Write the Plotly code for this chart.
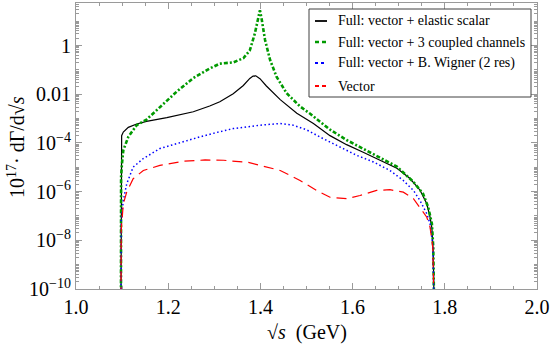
import plotly.graph_objects as go

# ---- data (sqrt(s) in GeV, 10^17 dGamma/dsqrt(s)) ----
x_elastic = [1.0975, 1.0978, 1.0990, 1.1026, 1.1135, 1.1316, 1.153, 1.197, 1.2545, 1.290,
             1.312, 1.341, 1.363, 1.377, 1.384, 1.390, 1.399, 1.413, 1.443, 1.479,
             1.515, 1.551, 1.587, 1.623, 1.659, 1.696, 1.724, 1.746, 1.761, 1.768,
             1.772, 1.775, 1.777]
y_elastic = [1e-11, 1.41e-4, 2.00e-4, 2.82e-4, 4.37e-4, 6.03e-4, 7.76e-4, 1.10e-3, 1.91e-3, 3.31e-3,
             4.90e-3, 1.05e-2, 2.29e-2, 4.47e-2, 5.62e-2, 5.75e-2, 4.37e-2, 2.19e-2, 6.03e-3, 1.66e-3,
             6.31e-4, 2.00e-4, 8.51e-5, 4.17e-5, 2.00e-5, 9.12e-6, 3.55e-6, 1.17e-6, 3.16e-7, 8.91e-8,
             3.16e-8, 3.16e-9, 1e-11]

x_coupled = [1.0975, 1.0978, 1.0995, 1.1026, 1.1135, 1.1316, 1.153, 1.182, 1.218, 1.254,
             1.291, 1.312, 1.341, 1.363, 1.377, 1.388, 1.395, 1.399, 1.403, 1.410,
             1.421, 1.435, 1.457, 1.486, 1.508, 1.551, 1.587, 1.623, 1.659, 1.696,
             1.732, 1.753, 1.764, 1.772, 1.775, 1.777]
y_coupled = [1e-11, 3.98e-6, 1.26e-5, 5.01e-5, 1.78e-4, 5.37e-4, 9.12e-4, 3.02e-3, 1.26e-2, 4.57e-2,
             0.117, 0.182, 0.204, 0.302, 0.631, 3.16, 15.8, 28.2, 11.5, 1.74,
             0.257, 5.25e-2, 1.10e-2, 3.16e-3, 1.58e-3, 3.55e-4, 1.32e-4, 5.62e-5, 2.40e-5, 1.07e-5,
             2.51e-6, 8.13e-7, 2.29e-7, 4.79e-8, 5.01e-9, 1e-11]

x_bw = [1.0975, 1.098, 1.1026, 1.110, 1.124, 1.146, 1.182, 1.233, 1.269, 1.305,
        1.341, 1.399, 1.443, 1.471, 1.500, 1.536, 1.573, 1.609, 1.645, 1.681,
        1.710, 1.732, 1.746, 1.761, 1.768, 1.774, 1.777]
y_bw = [1e-11, 6.31e-8, 4.37e-7, 2.09e-6, 1.02e-5, 2.29e-5, 5.89e-5, 1.17e-4, 1.78e-4, 2.69e-4,
        3.89e-4, 5.37e-4, 6.31e-4, 5.37e-4, 3.47e-4, 1.51e-4, 6.92e-5, 3.09e-5, 1.66e-5, 7.41e-6,
        2.88e-6, 1.12e-6, 4.37e-7, 1.23e-7, 4.79e-8, 6.31e-9, 1e-11]

x_vector = [1.0975, 1.098, 1.1026, 1.110, 1.124, 1.146, 1.182, 1.233, 1.280, 1.320,
            1.374, 1.410, 1.443, 1.486, 1.522, 1.551, 1.587, 1.616, 1.652, 1.681,
            1.710, 1.732, 1.746, 1.761, 1.768, 1.774, 1.777]
y_vector = [1e-11, 2.51e-8, 3.16e-7, 9.55e-7, 3.39e-6, 7.41e-6, 1.20e-5, 1.78e-5, 2.00e-5, 1.95e-5,
            1.58e-5, 1.07e-5, 7.41e-6, 2.88e-6, 1.12e-6, 5.89e-7, 5.13e-7, 6.92e-7, 1.12e-6, 1.20e-6,
            9.55e-7, 5.13e-7, 2.29e-7, 8.91e-8, 3.47e-8, 5.01e-9, 1e-11]

series_names = ["Full: vector + elastic scalar",
                "Full: vector + 3 coupled channels",
                "Full: vector + B. Wigner (2 res)",
                "Vector"]

x_tickvals = [1.0, 1.2, 1.4, 1.6, 1.8, 2.0]
x_ticktext = ["1.0", "1.2", "1.4", "1.6", "1.8", "2.0"]
y_tickvals = [1e-10, 1e-8, 1e-6, 1e-4, 1e-2, 1]
y_ticktext = ["10<sup>−10</sup>", "10<sup>−8</sup>", "10<sup>−6</sup>", "10<sup>−4</sup>", "0.01", "1"]

FONT = "Liberation Serif, Times New Roman, serif"
FRAME = "#9a9a9a"

# figure geometry (pixels)
W, H = 554, 344
ML, MR, MT, MB = 76, 17, 3, 55
PW, PH = W - ML - MR, H - MT - MB

def px_x(p):
    return (p - ML) / PW

def px_y(p):
    return (H - MB - p) / PH

styles = [
    dict(color="black", width=1.2),
    dict(color="#009a00", width=2.6, dash="4px,2px,2px,2px"),
    dict(color="#0000ff", width=1.5, dash="1.5px,2.5px"),
    dict(color="#ff0000", width=1.2, dash="10px,6px"),
]

fig = go.Figure()
for xs, ys, nm, st in zip([x_elastic, x_coupled, x_bw, x_vector],
                          [y_elastic, y_coupled, y_bw, y_vector],
                          series_names, styles):
    fig.add_trace(go.Scatter(x=xs, y=ys, mode="lines", name=nm, line=st, showlegend=False))

minor_y = []
for e in range(-10, 2):
    for m in range(2, 10):
        minor_y.append(m * 10.0 ** e)
    if e % 2 != 0:
        minor_y.append(10.0 ** e)

# manual legend (box, short line samples, labels)
shapes = [dict(type="rect", xref="paper", yref="paper",
               x0=px_x(309), x1=px_x(531), y0=px_y(97), y1=px_y(9),
               line=dict(color="#404040", width=1), fillcolor="white", layer="above")]
annotations = []
row_y = [21, 42, 63, 86]
for ry, nm, st in zip(row_y, series_names, styles):
    sl = dict(color=st["color"], width=max(st["width"], 1.8))
    if "dash" in st:
        sl["dash"] = "4px,3px" if st["color"] != "#0000ff" else "3px,3px"
    shapes.append(dict(type="line", xref="paper", yref="paper",
                       x0=px_x(315), x1=px_x(327), y0=px_y(ry), y1=px_y(ry),
                       line=sl, layer="above"))
    annotations.append(dict(text=nm, xref="paper", yref="paper", x=px_x(336), y=px_y(ry),
                            xanchor="left", yanchor="middle", showarrow=False,
                            font=dict(family=FONT, size=14, color="black")))

# axis titles
annotations.append(dict(text="√<i>s</i>  (GeV)", xref="paper", yref="paper",
                        x=0.5, y=px_y(332), xanchor="center", yanchor="middle", showarrow=False,
                        font=dict(family=FONT, size=20, color="black")))
annotations.append(dict(text="10<sup>17</sup>· dΓ/d√<i>s</i>", xref="paper", yref="paper",
                        x=px_x(16), y=px_y(147), xanchor="center", yanchor="middle", showarrow=False,
                        textangle=-90, font=dict(family=FONT, size=20, color="black")))

fig.update_layout(
    width=W, height=H,
    margin=dict(l=ML, r=MR, t=MT, b=MB),
    paper_bgcolor="white", plot_bgcolor="white",
    font=dict(family=FONT, size=20, color="black"),
    showlegend=False,
    shapes=shapes, annotations=annotations,
    xaxis=dict(range=[1.0, 2.0], tickvals=x_tickvals, ticktext=x_ticktext,
               ticks="inside", ticklen=6, tickcolor=FRAME, tickwidth=1,
               showline=True, linecolor=FRAME, linewidth=1, mirror="allticks",
               showgrid=False, zeroline=False, automargin=False,
               minor=dict(dtick=0.05, tick0=1.0, ticks="inside", ticklen=3, tickcolor=FRAME, showgrid=False),
               tickfont=dict(family=FONT, size=20)),
    yaxis=dict(type="log", range=[-10, 1.75], tickvals=y_tickvals, ticktext=y_ticktext,
               ticks="inside", ticklen=6, tickcolor=FRAME, tickwidth=1,
               showline=True, linecolor=FRAME, linewidth=1, mirror="allticks",
               showgrid=False, zeroline=False, automargin=False,
               minor=dict(tickvals=minor_y, ticks="inside", ticklen=3, tickcolor=FRAME, showgrid=False),
               tickfont=dict(family=FONT, size=20)),
)

fig.write_html("out.html",
               config={"displayModeBar": False},
               post_script="document.body.style.margin='0px';document.body.style.padding='0px';"
                           "document.documentElement.style.overflow='hidden';")
